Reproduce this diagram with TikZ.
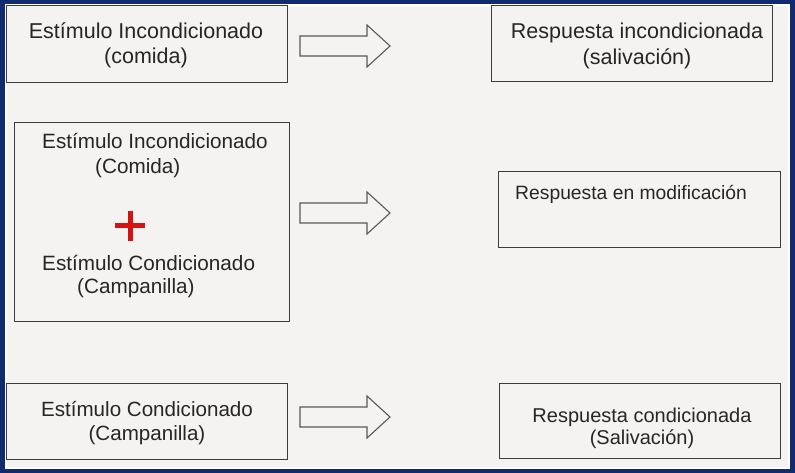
\documentclass[tikz,border=0pt]{standalone}
\usepackage{fontspec}
\setmainfont{Liberation Sans}
\usetikzlibrary{positioning}
\definecolor{marco}{RGB}{18,42,110}
\definecolor{fondo}{RGB}{244,243,241}
\definecolor{linea}{RGB}{60,60,60}
\definecolor{cruz}{RGB}{212,18,18}

\begin{document}
\begin{tikzpicture}[
    x=1pt, y=-1pt,
    box/.style={draw=linea, line width=1.3pt, inner sep=0pt, anchor=north west},
    txt/.style={inner sep=0pt, anchor=base, text=black!85},
    flecha/.style={draw=linea!85, line width=1.1pt, fill=fondo, line join=miter}
]
    % --- FONDO Y MARCO ---
    \fill[marco] (0,0) rectangle (795,473);
    \fill[white] (5,4) rectangle (790,469);
    \fill[fondo] (7,6) rectangle (788,467);
    \useasboundingbox (0,0) rectangle (795,473);

    % --- FILA 1: estimulo incondicionado ---
    \node[box, minimum width=281, minimum height=77] (ei) at (6,5) {};
    \node[txt, font=\fontsize{21.5}{25}\selectfont] (eiA) at (146,39) {Estímulo Incondicionado};
    \node[txt, font=\fontsize{21.5}{25}\selectfont] (eiB) at (146,64) {(comida)};

    \node[box, minimum width=281, minimum height=76] (ri) at (491,5) {};
    \node[txt, font=\fontsize{21.5}{25}\selectfont] (riA) at (637,39) {Respuesta incondicionada};
    \node[txt, font=\fontsize{21.5}{25}\selectfont] (riB) at (637,65) {(salivación)};

    % --- FILA 2: estimulo incondicionado + condicionado ---
    \node[box, minimum width=275, minimum height=199] (mix) at (14,122) {};
    \node[txt, anchor=base west, font=\fontsize{20.7}{25}\selectfont] (mixA) at (42,149) {Estímulo Incondicionado};
    \node[txt, anchor=base west, font=\fontsize{20.7}{25}\selectfont] (mixB) at (95,174) {(Comida)};
    \node[inner sep=0pt, minimum size=30] (plus) at (130,226) {};
    \draw[cruz, line width=5pt] (plus.west) -- (plus.east) (plus.north) -- (plus.south);
    \node[txt, anchor=base west, font=\fontsize{20.7}{25}\selectfont] (mixC) at (42,270) {Estímulo Condicionado};
    \node[txt, anchor=base west, font=\fontsize{20.7}{25}\selectfont] (mixD) at (77,293) {(Campanilla)};

    \node[box, minimum width=282, minimum height=76] (rm) at (498,171) {};
    \node[txt, anchor=base west, font=\fontsize{19.3}{24}\selectfont] (rmA) at (515,200) {Respuesta en modificación};

    % --- FILA 3: estimulo condicionado ---
    \node[box, minimum width=281, minimum height=76] (ec) at (6,383) {};
    \node[txt, font=\fontsize{20.6}{25}\selectfont] (ecA) at (147,416) {Estímulo Condicionado};
    \node[txt, font=\fontsize{20.6}{25}\selectfont] (ecB) at (147,440) {(Campanilla)};

    \node[box, minimum width=281, minimum height=75] (rc) at (499,383) {};
    \node[txt, font=\fontsize{20}{25}\selectfont] (rcA) at (642,422) {Respuesta condicionada};
    \node[txt, font=\fontsize{20}{25}\selectfont] (rcB) at (642,444) {(Salivación)};

    % --- FLECHAS ---
    \foreach \y in {46,213,417}
        \draw[flecha] (300,\y-10) -- (367,\y-10) -- (367,\y-21) -- (390,\y)
            -- (367,\y+21) -- (367,\y+10) -- (300,\y+10) -- cycle;
\end{tikzpicture}
\end{document}
